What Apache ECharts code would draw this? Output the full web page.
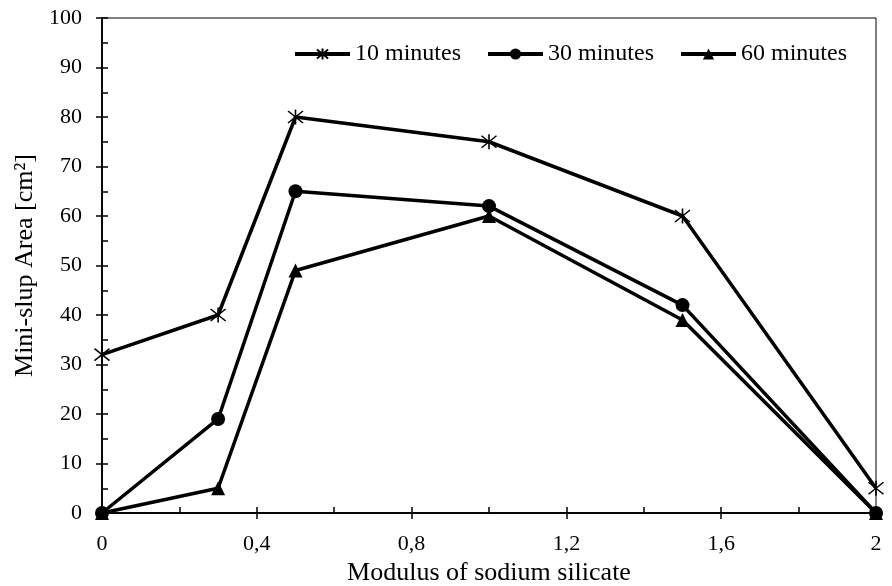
<!DOCTYPE html>
<html>
<head>
<meta charset="utf-8">
<script src="https://cdn.jsdelivr.net/npm/echarts@6/dist/echarts.min.js"></script>
<style>
  html, body { margin: 0; padding: 0; background: #fff; }
  #chart { width: 892px; height: 586px; }
</style>
</head>
<body>
<div id="chart"></div>
<script>
// Sodium silicate modulus vs. mini-slump spread area at three resting times
const modulus = [0, 0.3, 0.5, 1, 1.5, 2];
const area10min = [32, 40, 80, 75, 60, 5];
const area30min = [0, 19, 65, 62, 42, 0];
const area60min = [0, 5, 49, 60, 39, 0];
const seriesNames = ['10 minutes', '30 minutes', '60 minutes'];

const FONT = '"Liberation Serif", "DejaVu Serif", serif';
const INK = '#000';

// asterisk marker: vertical bar plus two diagonals (stroked)
const ASTERISK = 'path://M0,-10L0,10M-8,-8L8,8M-8,8L8,-8';

function pairs(values) {
  return modulus.map((x, i) => [x, values[i]]);
}

function lineSeries(name, values, symbol, size, extraStyle) {
  return {
    name: name,
    type: 'line',
    xAxisIndex: 0,
    yAxisIndex: 0,
    data: pairs(values),
    symbol: symbol,
    symbolSize: size,
    showAllSymbol: true,
    lineStyle: { color: INK, width: 3.5 },
    itemStyle: Object.assign({ color: INK }, extraStyle || {}),
    emphasis: { disabled: true },
    animation: false
  };
}

const axisCommon = {
  axisLine: { show: true, lineStyle: { color: INK, width: 1.5 } },
  splitLine: { show: false }
};

const chart = echarts.init(document.getElementById('chart'));
chart.setOption({
  backgroundColor: '#fff',
  animation: false,
  grid: {
    left: 102, right: 16, top: 18, bottom: 73,
    outerBoundsMode: 'none', containLabel: false,
    show: true, borderColor: INK, borderWidth: 1, backgroundColor: 'transparent'
  },
  legend: {
    right: 40, top: 37,
    itemWidth: 55, itemHeight: 14, itemGap: 25,
    lineStyle: { width: 4, color: INK },
    textStyle: { fontFamily: FONT, fontSize: 24, color: INK },
    data: seriesNames
  },
  xAxis: [
    Object.assign({}, axisCommon, {
      type: 'value', min: 0, max: 2, interval: 0.4,
      name: 'Modulus of sodium silicate', nameLocation: 'middle', nameGap: 47,
      nameTextStyle: { fontFamily: FONT, fontSize: 26, color: INK },
      axisTick: { show: true, inside: false, length: 6, lineStyle: { color: INK, width: 1.5 } },
      axisLabel: {
        fontFamily: FONT, fontSize: 22, color: INK, margin: 20,
        formatter: v => String(Math.round(v * 10) / 10).replace('.', ',')
      }
    }),
    Object.assign({}, axisCommon, {
      type: 'value', min: 0, max: 2, interval: 0.4, position: 'bottom',
      axisTick: { show: true, inside: true, length: 6, lineStyle: { color: INK, width: 1.5 } },
      minorTick: { show: true, splitNumber: 2, length: 6, lineStyle: { color: INK, width: 1.5 } },
      axisLabel: { show: false }
    })
  ],
  yAxis: [
    Object.assign({}, axisCommon, {
      type: 'value', min: 0, max: 100, interval: 10,
      name: 'Mini-slup Area [cm\u00B2]', nameLocation: 'middle', nameGap: 63,
      nameTextStyle: { fontFamily: FONT, fontSize: 26, color: INK },
      axisTick: { show: true, inside: false, length: 6, lineStyle: { color: INK, width: 1.5 } },
      axisLabel: { fontFamily: FONT, fontSize: 22, color: INK, margin: 20 }
    }),
    Object.assign({}, axisCommon, {
      type: 'value', min: 0, max: 100, interval: 10, position: 'left',
      axisTick: { show: true, inside: true, length: 6, lineStyle: { color: INK, width: 1.5 } },
      minorTick: { show: true, splitNumber: 2, length: 6, lineStyle: { color: INK, width: 1.5 } },
      axisLabel: { show: false }
    })
  ],
  series: [
    lineSeries(seriesNames[0], area10min, ASTERISK, 15,
      { color: INK, borderColor: INK, borderWidth: 1.6 }),
    lineSeries(seriesNames[1], area30min, 'circle', 14),
    lineSeries(seriesNames[2], area60min, 'triangle', 14)
  ]
});
</script>
</body>
</html>
